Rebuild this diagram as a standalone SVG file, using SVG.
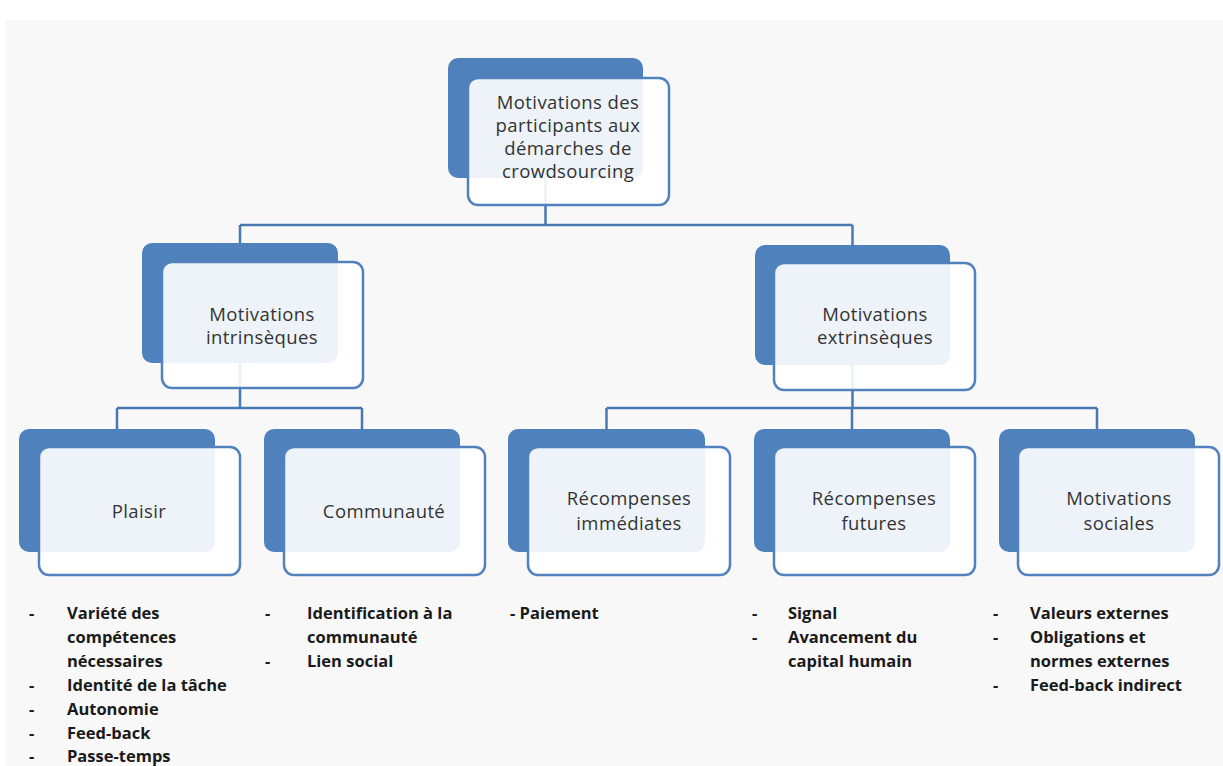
<svg xmlns="http://www.w3.org/2000/svg" width="1223" height="766" viewBox="0 0 1223 766">
<defs>
<style>
.bg{fill:#f8f8f8}
.back{fill:#4f81bd}
.front{fill:#ffffff;fill-opacity:0.9;stroke:#5282be;stroke-width:2.5}
.lbl{font-family:"Open Sans","Liberation Sans",sans-serif;font-size:18.5px;letter-spacing:0.4px;fill:#333333;text-anchor:middle}
.lst{font-family:"Open Sans","Liberation Sans",sans-serif;font-size:16.5px;font-weight:700;fill:#1a1a1a}
.con{fill:none;stroke:#4a78b2;stroke-width:2.5}
</style>
</defs>
<rect width="1223" height="766" fill="#ffffff"/>
<rect class="bg" x="6" y="20" width="1217" height="746"/>

<g id="connectors">
<path class="con" d="M545.5,178 V225 M240,225 H852.5 M240,225 V243 M852.5,225 V245"/>
<path class="con" d="M240,363 V408 M117,408 H362 M117,408 V429 M362,408 V429"/>
<path class="con" d="M852.5,365 V408 M606.5,408 H1097 M606.5,408 V429 M852,408 V429 M1097,408 V429"/>
</g>

<g id="node-root">
<rect class="back" x="448" y="58" width="195" height="120" rx="10"/>
<rect class="front" x="468" y="78" width="201" height="127" rx="10"/>
<text class="lbl" x="568" y="109">Motivations des</text>
<text class="lbl" x="568" y="132">participants aux</text>
<text class="lbl" x="568" y="155">démarches de</text>
<text class="lbl" x="568" y="178">crowdsourcing</text>
</g>

<g id="node-intrinseques">
<rect class="back" x="142" y="243" width="196" height="120" rx="10"/>
<rect class="front" x="162" y="262" width="201" height="126" rx="10"/>
<text class="lbl" x="262" y="321">Motivations</text>
<text class="lbl" x="262" y="344">intrinsèques</text>
</g>

<g id="node-extrinseques">
<rect class="back" x="755" y="245" width="195" height="120" rx="10"/>
<rect class="front" x="774" y="263" width="201" height="127" rx="10"/>
<text class="lbl" x="875" y="321">Motivations</text>
<text class="lbl" x="875" y="344">extrinsèques</text>
</g>

<g id="node-plaisir">
<rect class="back" x="19" y="429" width="196" height="123" rx="10"/>
<rect class="front" x="39" y="447" width="201" height="128" rx="10"/>
<text class="lbl" x="139" y="518">Plaisir</text>
</g>

<g id="node-communaute">
<rect class="back" x="264" y="429" width="196" height="123" rx="10"/>
<rect class="front" x="284" y="447" width="201" height="128" rx="10"/>
<text class="lbl" x="384" y="518">Communauté</text>
</g>

<g id="node-immediates">
<rect class="back" x="508" y="429" width="197" height="123" rx="10"/>
<rect class="front" x="528" y="447" width="202" height="128" rx="10"/>
<text class="lbl" x="629" y="505">Récompenses</text>
<text class="lbl" x="629" y="530">immédiates</text>
</g>

<g id="node-futures">
<rect class="back" x="754" y="429" width="196" height="123" rx="10"/>
<rect class="front" x="774" y="447" width="201" height="128" rx="10"/>
<text class="lbl" x="874" y="505">Récompenses</text>
<text class="lbl" x="874" y="530">futures</text>
</g>

<g id="node-sociales">
<rect class="back" x="999" y="429" width="196" height="123" rx="10"/>
<rect class="front" x="1018" y="447" width="201" height="128" rx="10"/>
<text class="lbl" x="1119" y="505">Motivations</text>
<text class="lbl" x="1119" y="530">sociales</text>
</g>

<g id="list-plaisir" class="lst">
<text x="29" y="619">-</text><text x="67" y="619">Variété des</text>
<text x="67" y="643">compétences</text>
<text x="67" y="667">nécessaires</text>
<text x="29" y="691">-</text><text x="67" y="691">Identité de la tâche</text>
<text x="29" y="715">-</text><text x="67" y="715">Autonomie</text>
<text x="29" y="739">-</text><text x="67" y="739">Feed-back</text>
<text x="29" y="762">-</text><text x="67" y="762">Passe-temps</text>
</g>

<g id="list-communaute" class="lst">
<text x="265" y="619">-</text><text x="307" y="619">Identification à la</text>
<text x="307" y="643">communauté</text>
<text x="265" y="667">-</text><text x="307" y="667">Lien social</text>
</g>

<g id="list-immediates" class="lst">
<text x="510" y="619">- Paiement</text>
</g>

<g id="list-futures" class="lst">
<text x="752" y="619">-</text><text x="788" y="619">Signal</text>
<text x="752" y="643">-</text><text x="788" y="643">Avancement du</text>
<text x="788" y="667">capital humain</text>
</g>

<g id="list-sociales" class="lst">
<text x="993" y="619">-</text><text x="1030" y="619">Valeurs externes</text>
<text x="993" y="643">-</text><text x="1030" y="643">Obligations et</text>
<text x="1030" y="667">normes externes</text>
<text x="993" y="691">-</text><text x="1030" y="691">Feed-back indirect</text>
</g>
</svg>
